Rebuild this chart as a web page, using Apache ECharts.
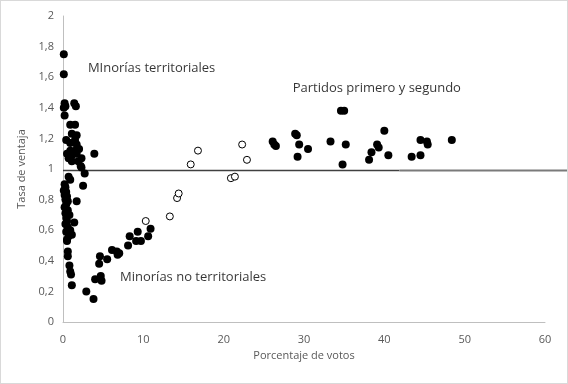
<!DOCTYPE html>
<html><head><meta charset="utf-8">
<script src="https://cdn.jsdelivr.net/npm/echarts@6/dist/echarts.min.js"></script>
<style>html,body{margin:0;padding:0;background:#fff}#c{width:568px;height:384px;box-sizing:border-box;border:1px solid #d9d9d9}</style>
</head><body><div id="c"></div>
<script>
const territoriales = [[0.1,1.75],[0.1,1.62],[0.2,1.43],[0.3,1.41],[0.1,1.40],[1.4,1.43],[1.6,1.41],[0.2,1.35],[0.9,1.29],[1.5,1.29],[1.1,1.23],[1.7,1.22],[0.4,1.19],[0.9,1.17],[1.5,1.19],[1.7,1.16],[0.9,1.12],[1.5,1.12],[2.0,1.13],[0.5,1.10],[1.1,1.09],[1.7,1.10],[2.3,1.07],[3.9,1.10],[0.7,1.07],[1.1,1.05],[1.9,1.05],[2.2,1.02],[2.3,1.01],[2.7,0.97],[0.7,0.95],[0.9,0.93],[2.5,0.89],
[0.2,0.90],[0.3,0.88],[0.1,0.86],[0.4,0.85],[0.2,0.83],[0.5,0.82],[0.3,0.80],[0.6,0.79],[1.7,0.79],[0.4,0.77],[0.2,0.75],[0.6,0.73],[0.3,0.71],[0.8,0.70],[0.4,0.68],[0.5,0.66],[1.4,0.65],[0.3,0.64],[0.6,0.62],[0.9,0.60],[0.4,0.59],[1.1,0.57],[0.7,0.56],[0.5,0.54],[0.5,0.53],[0.6,0.46],[0.6,0.43],[0.8,0.37],[0.9,0.33],[1.0,0.31],[1.1,0.24]];
const noTerritoriales = [[2.9,0.20],[3.8,0.15],[4.0,0.28],[4.7,0.30],[4.8,0.27],[4.5,0.38],[4.6,0.43],[5.5,0.41],[6.1,0.47],[6.7,0.46],[7.0,0.45],[6.8,0.44],[8.1,0.50],[8.3,0.56],[9.1,0.53],[9.7,0.53],[9.3,0.59],[10.6,0.56],[10.9,0.61]];
const partidos = [[26.1,1.18],[26.3,1.16],[26.5,1.15],[28.9,1.23],[29.1,1.22],[29.4,1.16],[29.2,1.08],[30.5,1.13],[33.3,1.18],[34.6,1.38],[35.0,1.38],[35.2,1.16],[34.8,1.03],[38.1,1.06],[38.4,1.11],[39.1,1.16],[39.3,1.14],[40.0,1.25],[40.5,1.09],[43.4,1.08],[44.5,1.09],[44.5,1.19],[45.3,1.18],[45.4,1.16],[48.4,1.19]];
const abiertos = [[10.3,0.66],[13.3,0.69],[14.2,0.81],[14.4,0.84],[15.9,1.03],[16.8,1.12],[20.9,0.94],[21.4,0.95],[22.3,1.16],[22.9,1.06]];
const lineaDark = [[0,0.99],[41.8,0.99]];
const lineaGray = [[41.8,0.99],[62.6,0.99]];
const etiquetas = [
  {value:[3.1,1.66], text:'MInorías territoriales'},
  {value:[28.6,1.53], text:'Partidos primero y segundo'},
  {value:[7.1,0.29], text:'Minorías no territoriales'}
];
const F = '"Open Sans", "Noto Sans", sans-serif';
const chart = echarts.init(document.getElementById('c'));
const filled = {type:'scatter', symbol:'circle', symbolSize:8, itemStyle:{color:'#000',opacity:1}, z:3};
chart.setOption({
  animation:false,
  grid:[{left:62,right:22,top:15,bottom:61},{left:62,right:22-20.8*(482/60),top:15,bottom:61}],
  xAxis:[{type:'value',gridIndex:0,min:0,max:60,interval:10,
    name:'Porcentaje de votos',nameLocation:'middle',nameGap:28,
    nameTextStyle:{color:'#595959',fontFamily:F,fontSize:11},
    axisLine:{show:true,lineStyle:{color:'#bfbfbf'}},axisTick:{show:false},splitLine:{show:false},
    axisLabel:{color:'#595959',fontFamily:F,fontSize:11,margin:12}},
    {type:'value',gridIndex:1,min:0,max:62.6,show:false}],
  yAxis:[{type:'value',gridIndex:0,min:0,max:2,interval:0.2,
    name:'Tasa de ventaja',nameLocation:'middle',nameGap:35,nameRotate:90,
    nameTextStyle:{color:'#595959',fontFamily:F,fontSize:11},
    axisLine:{show:true,lineStyle:{color:'#bfbfbf'}},axisTick:{show:false},splitLine:{show:false},
    axisLabel:{color:'#595959',fontFamily:F,fontSize:11,margin:9,
      formatter:v=>(Math.round(v*10)/10).toString().replace('.',',')}},
    {type:'value',gridIndex:1,min:0,max:2,show:false}],
  series:[
    {type:'line',xAxisIndex:1,yAxisIndex:1,data:lineaDark,symbol:'none',lineStyle:{color:'#404040',width:1.5},z:1},
    {type:'line',xAxisIndex:1,yAxisIndex:1,data:lineaGray,symbol:'none',lineStyle:{color:'#7a7a7a',width:2},z:1},
    Object.assign({data:territoriales},filled),
    Object.assign({data:noTerritoriales},filled),
    Object.assign({data:partidos},filled),
    {type:'scatter',symbol:'circle',symbolSize:7,data:abiertos,itemStyle:{color:'#fff',borderColor:'#000',borderWidth:1,opacity:1},z:3},
    {type:'scatter',symbolSize:0,data:etiquetas,z:4,
      label:{show:true,position:'right',distance:0,color:'#000',fontFamily:F,fontSize:13,
        formatter:p=>p.data.text}}
  ]
});
</script></body></html>
